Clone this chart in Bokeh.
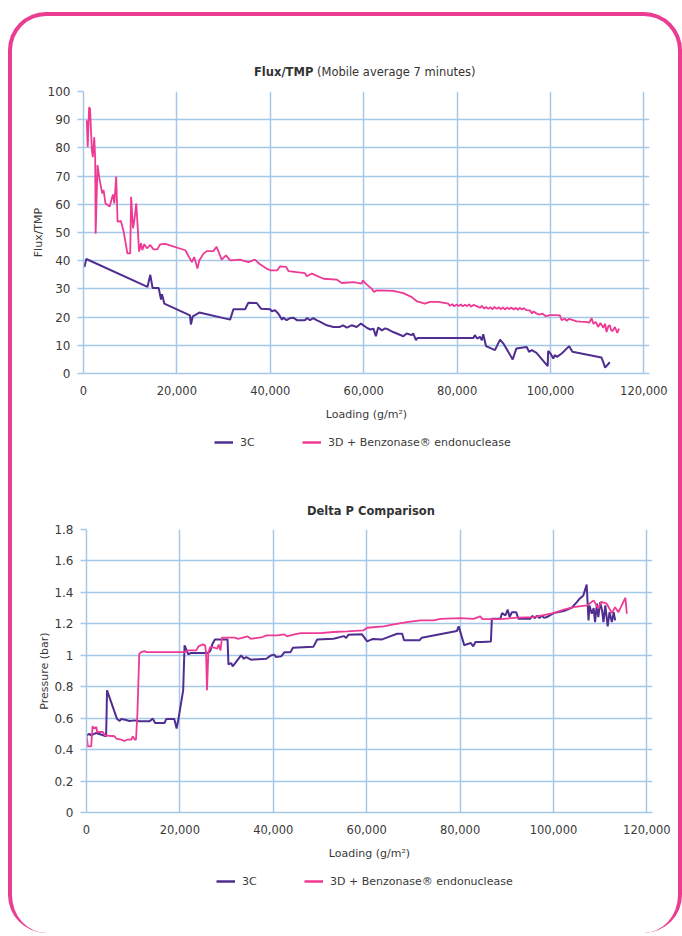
from bokeh.plotting import figure
from bokeh.models import (FixedTicker, NumeralTickFormatter, CustomJSTickFormatter,
                          Legend, LegendItem, Range1d, Div, Spacer)
from bokeh.layouts import column
from bokeh.embed import file_html
from bokeh.resources import INLINE

# ---------------- data (loading in thousands of g/m2) ----------------
flux_3c_load_k = [0.2, 0.6, 13.7, 14.3, 14.8, 16.1, 16.6, 16.8, 17.1, 17.3, 22.8, 23.0, 23.4, 24.8,
                  31.4, 32.1, 34.6, 35.3, 37.1, 38.0, 40.0, 40.3, 41.0, 41.7, 42.5, 42.8, 43.5, 44.2,
                  44.9, 45.7, 47.4, 47.9, 48.5, 49.2, 49.9, 50.7, 52.1, 53.5, 54.9, 55.6, 56.4, 57.4,
                  58.5, 59.4, 60.6, 61.4, 62.1, 62.6, 63.1, 63.9, 64.6, 65.3, 66.3, 68.5, 69.2, 70.3,
                  70.6, 71.2, 71.5, 83.5, 83.8, 84.3, 84.9, 85.3, 85.6, 86.2, 88.1, 89.2, 90.0, 91.9,
                  92.7, 94.9, 95.4, 96.0, 97.0, 99.4, 99.5, 100.0, 100.6, 100.9, 101.4, 102.4, 104.0,
                  104.7, 110.9, 111.2, 111.7, 112.7]
flux_3c = [37.8, 40.6, 30.7, 35.0, 30.3, 30.3, 26.2, 28.1, 26.2, 24.8, 20.6, 17.4, 20.3, 21.6,
           19.1, 22.8, 22.8, 25.1, 25.0, 23.0, 22.8, 22.1, 22.4, 21.3, 19.1, 19.8, 18.9, 19.6,
           19.8, 18.9, 18.9, 19.7, 18.9, 19.6, 18.9, 18.3, 17.1, 16.5, 16.5, 17.1, 16.3, 17.1,
           16.5, 17.7, 16.3, 15.6, 15.9, 13.2, 16.3, 15.3, 16.0, 15.6, 14.7, 13.2, 14.2, 13.6,
           14.2, 11.8, 12.6, 12.6, 13.6, 12.4, 13.0, 11.8, 13.9, 9.7, 8.3, 12.0, 10.4, 5.0,
           8.9, 9.4, 7.7, 8.3, 7.3, 2.6, 8.0, 7.1, 5.3, 6.5, 5.9, 7.1, 9.7,
           7.7, 5.7, 4.5, 2.1, 4.0]

flux_3d_load_k = [0.7, 0.9, 1.2, 1.4, 1.8, 2.0, 2.3, 2.5, 2.6, 3.0, 3.4, 4.0, 4.3, 4.7, 5.6, 6.3,
                  6.6, 7.0, 7.3, 8.0, 8.6, 9.4, 10.0, 10.2, 10.6, 10.9, 11.3, 11.6, 11.9, 12.3,
                  12.6, 13.0, 13.6, 14.3, 15.0, 15.8, 16.4, 17.5, 21.8, 22.5, 23.2, 23.7, 24.4,
                  24.8, 25.7, 26.4, 27.8, 28.5, 29.6, 30.5, 31.4, 33.5, 35.3, 36.7, 37.8, 39.2,
                  40.0, 41.5, 42.1, 43.4, 43.9, 47.4, 47.8, 48.9, 51.4, 54.2, 55.3, 57.8, 59.6,
                  59.8, 60.6, 61.7, 62.2, 62.8, 66.3, 68.5, 70.3, 71.3, 73.1, 74.2, 76.0, 78.1,
                  78.5, 79.0, 79.4, 79.9, 80.3, 80.8, 81.2, 81.7, 82.1, 82.6, 83.0, 83.5, 84.2,
                  84.9, 85.3, 85.8, 86.2, 86.7, 87.1, 87.6, 88.0, 88.5, 88.9, 89.4, 89.8, 90.3,
                  90.7, 91.2, 91.6, 92.1, 92.5, 93.0, 93.4, 93.9, 94.3, 94.8, 95.6, 96.0, 96.4,
                  97.0, 97.5, 98.3, 99.0, 99.9, 101.0, 102.0, 102.4, 103.0, 103.5, 104.0, 105.6,
                  106.5, 107.5, 108.3, 108.8, 109.2, 109.7, 110.2, 110.7, 111.3, 111.7, 112.0,
                  112.4, 112.7, 113.0, 113.3, 113.8, 114.3, 114.7]
flux_3d = [89.8, 80.3, 94.4, 93.9, 79.1, 76.7, 83.8, 76.7, 49.6, 73.9, 69.2, 63.9, 65.0, 60.3, 59.2, 63.5,
           60.3, 69.8, 53.8, 54.1, 50.3, 42.6, 42.6, 62.7, 51.5, 54.4, 60.3, 52.1, 43.2, 46.2,
           43.8, 45.8, 44.4, 45.6, 44.0, 44.0, 45.8, 46.0, 43.7, 41.6, 39.5, 41.3, 37.2,
           40.1, 42.5, 43.4, 43.4, 44.9, 40.4, 41.9, 40.1, 40.4, 39.5, 40.4, 38.7, 37.2,
           36.6, 36.6, 38.0, 37.8, 36.3, 35.6, 34.5, 35.4, 33.6, 33.3, 32.1, 32.4, 31.9,
           33.0, 31.6, 30.1, 28.9, 29.5, 29.3, 28.5, 27.1, 25.7, 24.8, 25.4, 25.4, 24.8,
           24.0, 24.6, 23.8, 24.5, 23.9, 24.5, 23.8, 24.4, 23.9, 24.5, 23.7, 24.3, 23.9,
           23.3, 24.0, 23.0, 23.6, 22.9, 23.5, 22.8, 23.6, 22.9, 23.5, 22.8, 23.4, 22.7,
           23.4, 22.8, 23.4, 22.7, 23.3, 22.6, 23.3, 22.7, 23.2, 22.5, 22.4, 21.3, 22.0,
           21.3, 20.9, 21.2, 20.3, 20.7, 20.7, 20.6, 18.9, 19.5, 18.7, 19.4, 18.5,
           18.4, 18.3, 18.0, 19.6, 17.6, 18.3, 16.5, 17.9, 16.2, 17.7, 14.7,
           16.8, 17.1, 15.3, 15.1, 16.5, 14.4, 15.9]

dp_3c_load_k = [0.0, 0.6, 1.0, 2.1, 4.2, 4.4, 6.4, 6.6, 7.1, 7.4, 8.3, 9.2, 10.3, 11.3, 13.5, 14.2,
                14.7, 16.7, 17.1, 18.8, 19.3, 19.7, 20.7, 21.0, 21.3, 21.8, 22.3, 26.0, 26.5, 27.0,
                27.5, 30.2, 30.4, 31.0, 31.3, 32.0, 33.1, 33.7, 34.2, 35.2, 38.5, 39.5, 40.2, 40.6,
                41.7, 42.4, 43.7, 44.2, 48.6, 49.4, 52.9, 55.1, 55.6, 56.1, 59.0, 60.1, 61.2, 63.3,
                64.3, 66.5, 67.6, 68.0, 71.3, 71.8, 79.3, 79.7, 80.9, 81.3, 82.3, 82.8, 83.3, 84.7,
                86.6, 86.8, 88.6, 89.0, 89.7, 90.2, 90.6, 91.1, 92.0, 92.5, 95.0, 95.5, 96.0, 96.5,
                97.0, 97.5, 98.0, 98.6, 100.0, 102.2, 103.9, 105.0, 105.6, 106.4, 107.1, 107.5,
                107.7, 108.2, 108.6, 108.9, 109.3, 109.6, 110.0, 110.4, 110.7, 111.1, 111.6, 112.0,
                112.5, 112.9, 113.2]
dp_3c = [0.491, 0.500, 0.490, 0.506, 0.485, 0.777, 0.607, 0.593, 0.582, 0.595, 0.590, 0.582, 0.586,
         0.580, 0.580, 0.597, 0.569, 0.569, 0.595, 0.595, 0.534, 0.597, 0.777, 1.063, 1.042, 1.006,
         1.014, 1.014, 1.027, 1.074, 1.100, 1.100, 0.942, 0.950, 0.930, 0.957, 0.999, 0.978, 0.989,
         0.972, 0.978, 0.999, 1.004, 0.989, 0.993, 1.020, 1.020, 1.048, 1.055, 1.100, 1.105, 1.122,
         1.110, 1.131, 1.133, 1.088, 1.103, 1.101, 1.112, 1.137, 1.137, 1.095, 1.095, 1.112, 1.154,
         1.184, 1.063, 1.069, 1.078, 1.057, 1.084, 1.084, 1.088, 1.232, 1.232, 1.268, 1.253, 1.290,
         1.243, 1.274, 1.274, 1.232, 1.232, 1.250, 1.236, 1.252, 1.236, 1.252, 1.238, 1.243, 1.268,
         1.281, 1.302, 1.338, 1.360, 1.381, 1.450, 1.222, 1.317, 1.264, 1.300, 1.211, 1.328, 1.243,
         1.338, 1.285, 1.211, 1.317, 1.184, 1.274, 1.211, 1.274, 1.222]

dp_3d_load_k = [0.0, 0.3, 1.0, 1.3, 1.7, 2.1, 2.3, 3.5, 3.9, 6.0, 6.4, 7.4, 8.1, 8.8, 9.6, 9.9, 10.3,
                10.6, 10.9, 11.3, 11.7, 12.4, 12.8, 21.0, 21.8, 23.5, 24.0, 24.9, 25.4, 25.6, 25.8,
                26.1, 26.5, 27.4, 28.0, 28.3, 28.7, 29.0, 31.7, 32.5, 34.5, 35.2, 37.7, 38.5, 40.9,
                42.4, 42.9, 44.5, 45.9, 50.1, 52.9, 55.8, 59.3, 60.1, 63.6, 65.8, 68.6, 71.5, 74.3,
                75.8, 80.0, 82.9, 84.3, 84.8, 88.6, 92.2, 95.7, 100.0, 102.2, 104.3, 107.2, 108.6,
                109.6, 110.2, 111.4, 112.5, 113.2, 113.9, 114.6, 115.4, 115.7]
dp_3d = [0.490, 0.421, 0.421, 0.548, 0.534, 0.544, 0.512, 0.512, 0.491, 0.485, 0.470, 0.464, 0.455,
         0.464, 0.464, 0.485, 0.464, 0.464, 0.629, 1.010, 1.020, 1.027, 1.020, 1.020, 1.031, 1.031,
         1.057, 1.069, 1.063, 1.020, 0.777, 1.020, 1.052, 1.048, 1.042, 1.069, 1.031, 1.112, 1.112,
         1.105, 1.120, 1.105, 1.116, 1.127, 1.127, 1.133, 1.120, 1.133, 1.141, 1.141, 1.148, 1.152,
         1.158, 1.175, 1.184, 1.196, 1.211, 1.222, 1.222, 1.232, 1.236, 1.232, 1.247, 1.230, 1.230,
         1.239, 1.243, 1.268, 1.290, 1.306, 1.317, 1.349, 1.296, 1.340, 1.328, 1.268, 1.306, 1.274,
         1.317, 1.366, 1.264]

x_ticks = [0, 20000, 40000, 60000, 80000, 100000, 120000]
flux_ticks = [0, 10, 20, 30, 40, 50, 60, 70, 80, 90, 100]
dp_ticks = [0, 0.2, 0.4, 0.6, 0.8, 1, 1.2, 1.4, 1.6, 1.8]
series_names = ["3C", "3D + Benzonase\u00ae endonuclease"]

# ---------------- style ----------------
FONT = "DejaVu Sans"
GRID = "#a6c8e8"
PURPLE = "#4f2e90"
PINK = "#ee3a95"
BORDER = "#ea3c91"
TXT = "#3a3a3a"
W = 666


def to_g(vals):
    return [v * 1000 for v in vals]


def make_chart(ymax, yticks, ylabel, xs_a, ys_a, xs_b, ys_b, border_left,
               border_top, border_bottom, frame_h, ylab_standoff, y_fmt=None):
    p = figure(frame_width=566, frame_height=frame_h, output_backend="svg", toolbar_location=None,
               x_range=Range1d(0, 121200), y_range=Range1d(0, ymax),
               min_border_left=border_left, min_border_right=W - 566 - border_left,
               min_border_top=border_top, min_border_bottom=border_bottom, frame_align=False)
    p.outline_line_color = None
    p.background_fill_color = "white"
    p.border_fill_color = None
    for g in (p.xgrid[0], p.ygrid[0]):
        g.grid_line_color = GRID
        g.grid_line_width = 1.5
    p.xgrid.ticker = FixedTicker(ticks=x_ticks)
    p.ygrid.ticker = FixedTicker(ticks=yticks)

    xa = p.xaxis[0]
    xa.ticker = FixedTicker(ticks=x_ticks)
    xa.formatter = NumeralTickFormatter(format="0,0")
    xa.axis_line_color = GRID
    xa.axis_line_width = 1.5
    xa.major_tick_out = 0
    xa.major_tick_in = 0
    xa.minor_tick_line_color = None
    xa.major_label_standoff = 12
    xa.axis_label = "Loading (g/m\u00b2)"
    xa.axis_label_standoff = 10

    ya = p.yaxis[0]
    ya.ticker = FixedTicker(ticks=yticks)
    if y_fmt is not None:
        ya.formatter = y_fmt
    ya.axis_line_color = GRID
    ya.axis_line_width = 1.5
    ya.major_tick_out = 6
    ya.major_tick_in = 0
    ya.major_tick_line_color = GRID
    ya.major_tick_line_width = 1.5
    ya.minor_tick_line_color = None
    ya.major_label_standoff = 7
    ya.axis_label = ylabel
    ya.axis_label_standoff = ylab_standoff

    for ax in (xa, ya):
        ax.major_label_text_font = FONT
        ax.major_label_text_color = TXT
        ax.axis_label_text_font = FONT
        ax.axis_label_text_font_style = "normal"
        ax.axis_label_text_font_size = "11px"
        ax.axis_label_text_color = TXT
    xa.major_label_text_font_size = "11.5px"
    ya.major_label_text_font_size = "12px"

    p.line(to_g(xs_a), ys_a, line_color=PURPLE, line_width=2)
    p.line(to_g(xs_b), ys_b, line_color=PINK, line_width=1.8)
    return p


def make_legend(x0, xs_a, ys_a, xs_b, ys_b):
    # key strip: the series lines lie outside its (empty) view, only the key is seen
    lf = figure(width=W, height=24, output_backend="svg", toolbar_location=None,
                x_range=Range1d(-2, -1), y_range=Range1d(0, 1), x_axis_type=None, y_axis_type=None,
                min_border_left=0, min_border_right=0, min_border_top=0, min_border_bottom=0,
                frame_align=False)
    lf.grid.visible = False
    lf.outline_line_color = None
    lf.border_fill_color = None
    ra = lf.line(to_g(xs_a), ys_a, line_color=PURPLE, line_width=2.5)
    rb = lf.line(to_g(xs_b), ys_b, line_color=PINK, line_width=2.5)
    leg = Legend(items=[LegendItem(label=series_names[0], renderers=[ra]),
                        LegendItem(label=series_names[1], renderers=[rb])],
                 location=(x0, 5), orientation="horizontal",
                 glyph_width=19, glyph_height=14, label_height=14, label_standoff=7, spacing=42,
                 padding=0, margin=0, border_line_color=None, background_fill_alpha=0,
                 label_text_font=FONT, label_text_font_size="11px", label_text_color=TXT)
    lf.add_layout(leg, "center")
    return lf


TITLE_STYLE = "font-family:'DejaVu Sans';font-size:11.5px;line-height:14px;color:#333333;white-space:nowrap;"

title1 = Div(text=('<div style="' + TITLE_STYLE + 'padding-top:49px;padding-left:242px;">'
                   '<b>Flux/TMP</b> (Mobile average 7 minutes)</div>'),
             width=W, height=66, margin=0)
p1 = make_chart(100, flux_ticks, "Flux/TMP", flux_3c_load_k, flux_3c, flux_3d_load_k, flux_3d,
                71, 9, 57, 282, 0)
leg1 = make_legend(202, flux_3c_load_k, flux_3c, flux_3d_load_k, flux_3d)

title2 = Div(text=('<div style="' + TITLE_STYLE + 'padding-top:50px;padding-left:295px;">'
                   '<b>Delta P Comparison</b></div>'),
             width=W, height=66, margin=0)
p2 = make_chart(1.8, dp_ticks, "Pressure (bar)", dp_3c_load_k, dp_3c, dp_3d_load_k, dp_3d,
                74, 9, 57, 283, 0,
                y_fmt=CustomJSTickFormatter(code="return tick.toString()"))
leg2 = make_legend(204, dp_3c_load_k, dp_3c, dp_3d_load_k, dp_3d)

layout = column(title1, p1, leg1, title2, p2, leg2, Spacer(width=W, height=40, margin=0),
                styles={"border": "4px solid " + BORDER, "border-bottom": "none",
                        "border-radius": "38px", "margin-top": "12px", "margin-left": "8px"})

open("out.html", "w").write(file_html(layout, INLINE))
